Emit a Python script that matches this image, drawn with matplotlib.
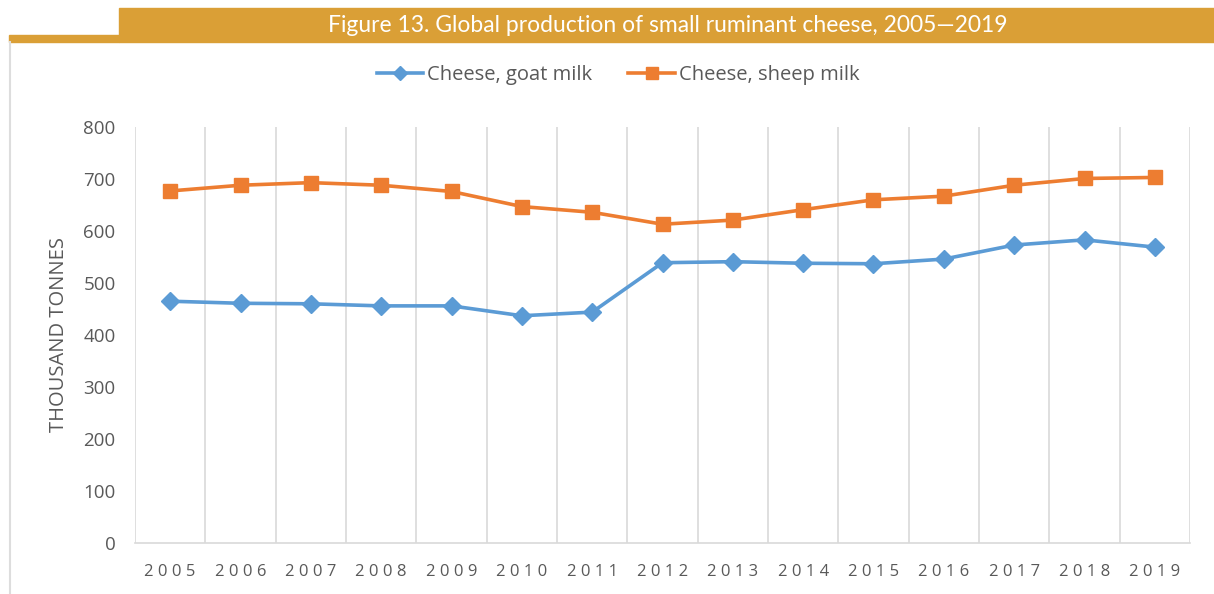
import matplotlib
matplotlib.use("Agg")
import matplotlib.pyplot as plt
from matplotlib.patches import Rectangle
from matplotlib.lines import Line2D

YEARS = [2005, 2006, 2007, 2008, 2009, 2010, 2011, 2012,
         2013, 2014, 2015, 2016, 2017, 2018, 2019]
GOAT = [465, 461, 460, 456, 456, 437, 444, 539,
        541, 538, 537, 546, 573, 583, 569]
SHEEP = [677, 688, 693, 688, 676, 647, 636, 613,
         621, 641, 660, 667, 688, 701, 703]
Y_TICKS = [0, 100, 200, 300, 400, 500, 600, 700, 800]

TITLE = "Figure 13. Global production of small ruminant cheese, 2005\u20142019"
BLUE = "#5B9BD5"
ORANGE = "#ED7D31"
GOLD = "#DA9F36"
GRID = "#D9D9D9"
TEXT = "#595959"

W, H = 1214, 594
plt.rcParams["font.family"] = ["Open Sans", "DejaVu Sans"]

fig = plt.figure(figsize=(W / 100, H / 100), dpi=100)

# banner + frame
fig.patches.append(Rectangle((119 / W, 1 - 42 / H), 1 - 119 / W, 34 / H,
                             transform=fig.transFigure, color=GOLD, zorder=0))
fig.patches.append(Rectangle((9 / W, 1 - 42 / H), 110 / W, 7 / H,
                             transform=fig.transFigure, color=GOLD, zorder=0))
fig.lines.append(Line2D([10 / W, 10 / W], [0, 1 - 42 / H],
                        transform=fig.transFigure, color="#DDDDDD", lw=1.5))
fig.text(668 / W, 1 - 25 / H, TITLE, color="white", fontsize=16.5,
         family=["Lato", "DejaVu Sans"], ha="center", va="center")

ax = fig.add_axes([135 / W, 1 - 543 / H, 1055 / W, 416 / H])
x = list(range(len(YEARS)))
ax.plot(x, GOAT, color=BLUE, lw=2.6, marker="D", ms=9,
        markeredgecolor=BLUE, label="Cheese, goat milk", zorder=3)
ax.plot(x, SHEEP, color=ORANGE, lw=2.6, marker="s", ms=10,
        markeredgecolor=ORANGE, label="Cheese, sheep milk", zorder=3)

ax.set_xlim(-0.5, len(YEARS) - 0.5)
ax.set_ylim(0, 800)
ax.set_yticks(Y_TICKS)
ax.set_xticks(x)
ax.set_xticklabels([" ".join(str(y)) for y in YEARS])
ax.set_xticks([i - 0.5 for i in range(len(YEARS) + 1)], minor=True)
ax.grid(True, which="minor", axis="x", color=GRID, lw=1.2)
ax.tick_params(axis="both", which="both", length=0, colors=TEXT)
ax.tick_params(axis="y", labelsize=13.5, pad=14)
ax.tick_params(axis="x", labelsize=12, pad=15)
for s in ("top", "right", "left"):
    ax.spines[s].set_visible(False)
ax.spines["bottom"].set_color(GRID)
ax.spines["bottom"].set_linewidth(1.2)
ax.set_ylabel("THOUSAND TONNES", fontsize=14.5, color=TEXT, labelpad=10)

fig.legend(loc="center", bbox_to_anchor=(618 / W, 1 - 75 / H), ncol=2,
           frameon=False, fontsize=14.5, labelcolor=TEXT, handlelength=2.3,
           handletextpad=0.2, columnspacing=1.8, markerscale=0.8)

fig.savefig("out.png", dpi=100)
